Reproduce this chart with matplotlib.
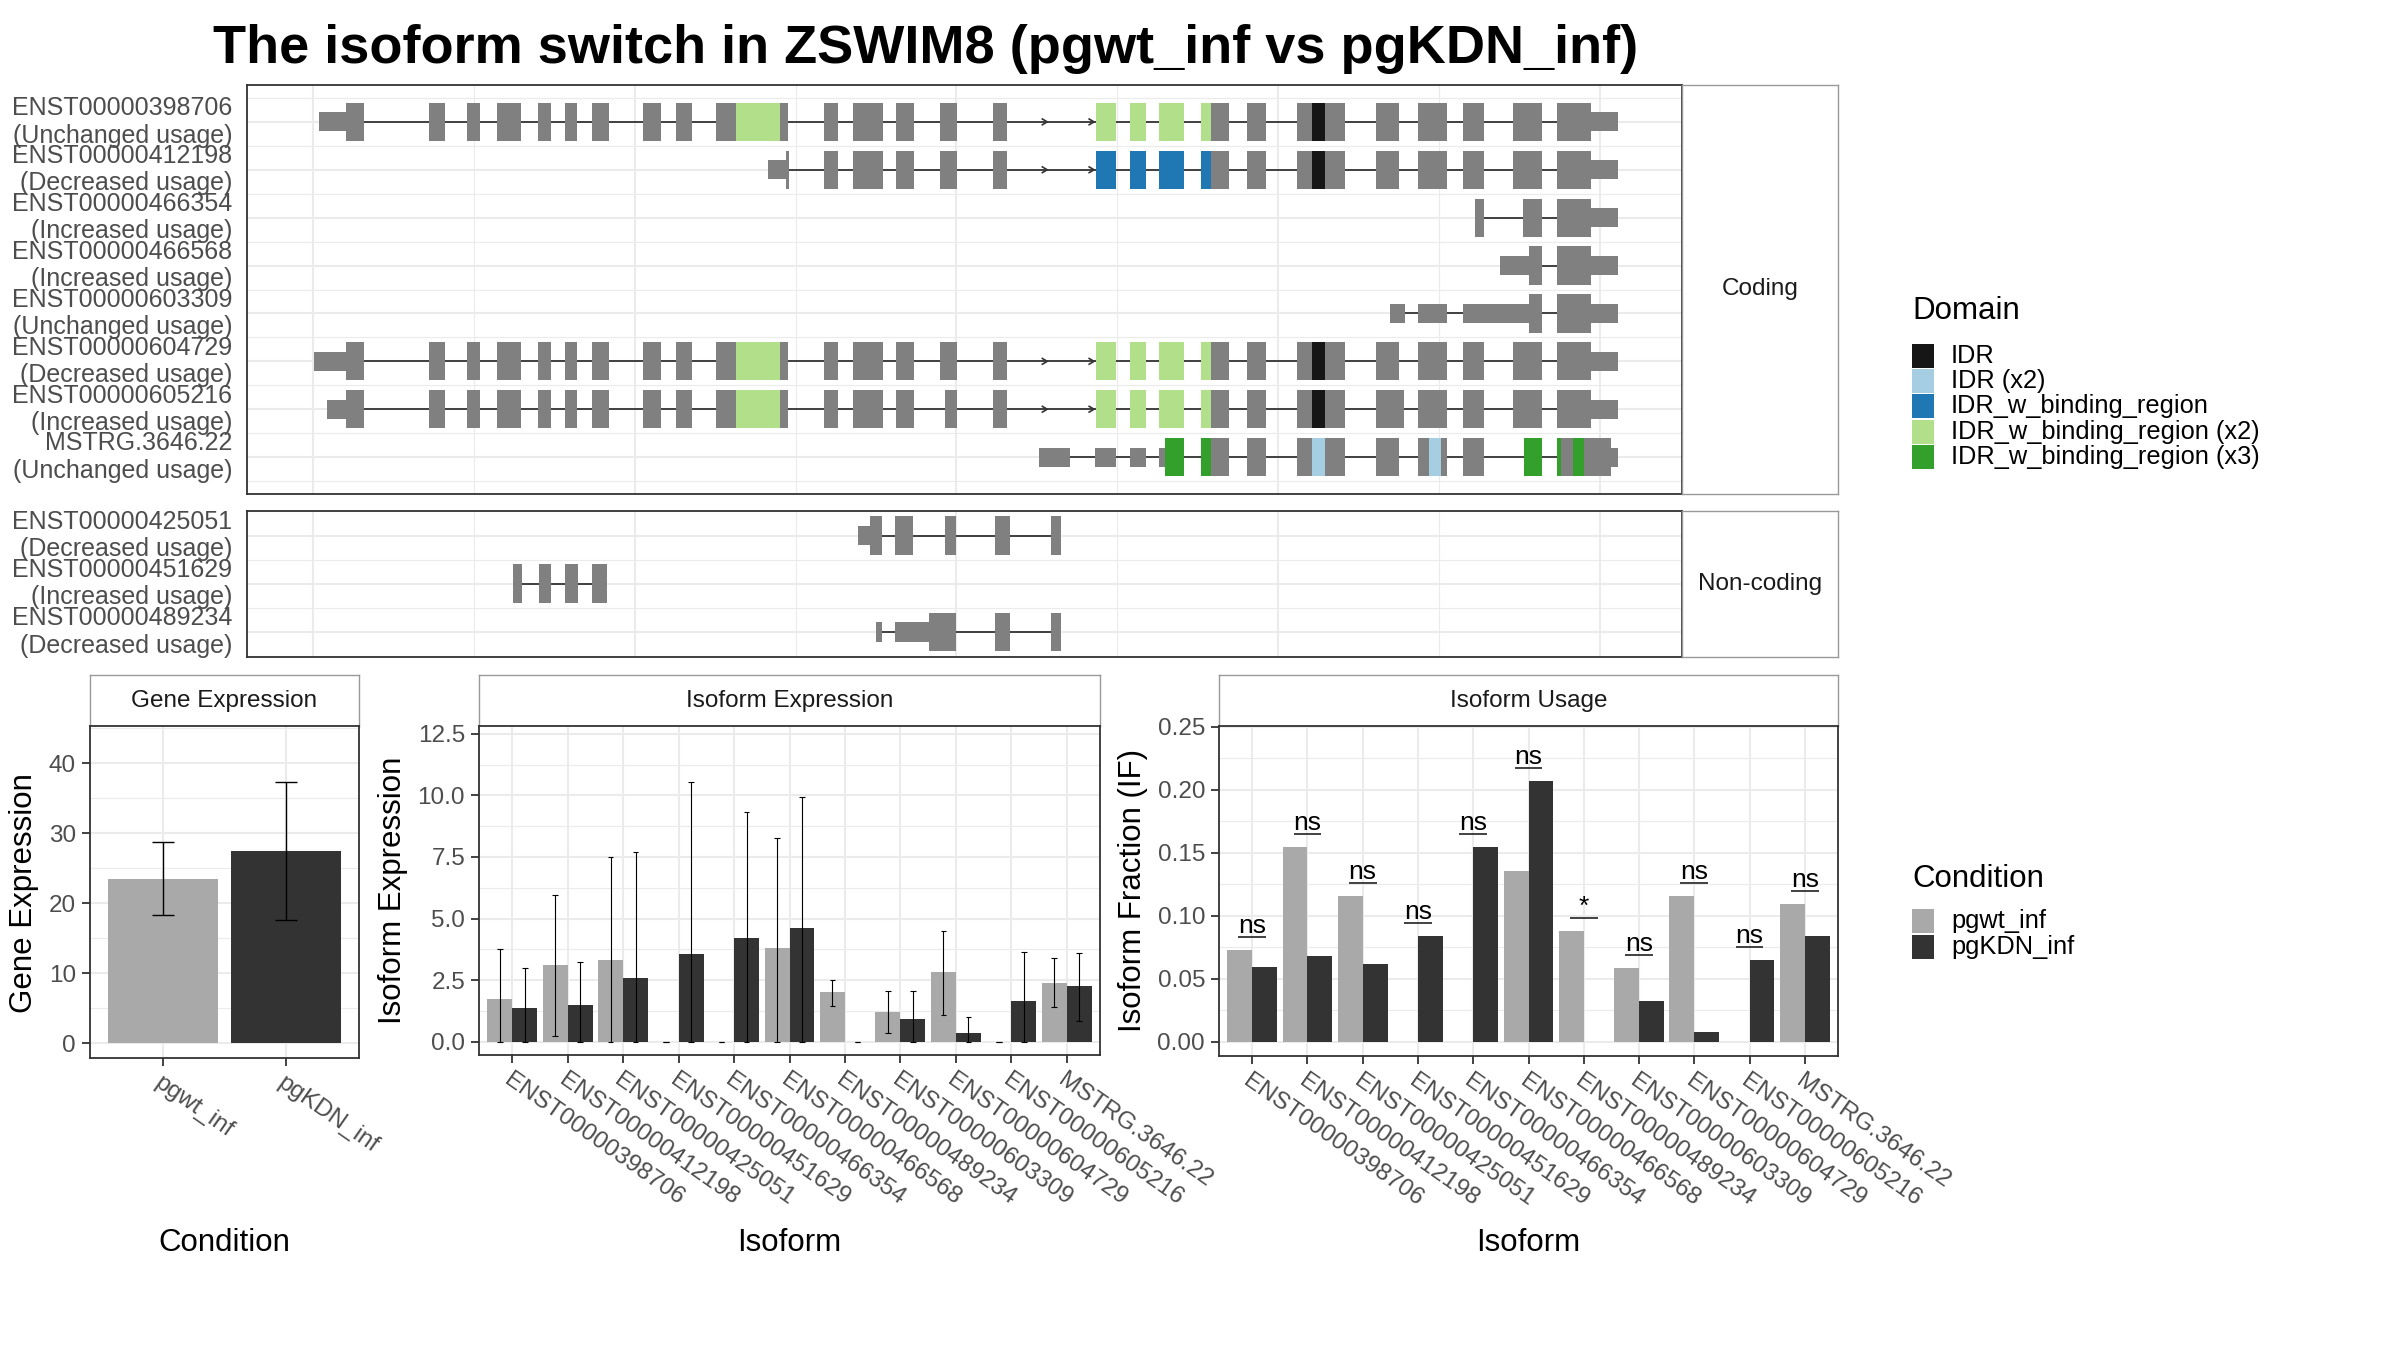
import matplotlib
matplotlib.use('Agg')
import matplotlib.pyplot as plt
from matplotlib.patches import Rectangle
from matplotlib.ticker import MultipleLocator, FormatStrFormatter

plt.rcParams['font.family'] = ['Liberation Sans', 'DejaVu Sans']

W, H = 2400, 1350

# ---------------- data ----------------
coding_ids = ['ENST00000398706', 'ENST00000412198', 'ENST00000466354', 'ENST00000466568',
              'ENST00000603309', 'ENST00000604729', 'ENST00000605216', 'MSTRG.3646.22']
coding_usage = ['Unchanged usage', 'Decreased usage', 'Increased usage', 'Increased usage',
                'Unchanged usage', 'Decreased usage', 'Increased usage', 'Unchanged usage']
noncoding_ids = ['ENST00000425051', 'ENST00000451629', 'ENST00000489234']
noncoding_usage = ['Decreased usage', 'Increased usage', 'Decreased usage']

# exon blocks (relative genomic position), full height = coding part
head_exons = [(2.04, 3.15), (7.24, 8.23), (9.60, 10.39), (11.44, 12.93), (13.98, 14.80),
              (15.65, 16.41), (17.34, 18.40), (20.50, 21.61), (22.54, 23.59), (25.05, 29.55)]
mid_exons = [(31.77, 32.62), (33.55, 35.45), (36.27, 37.38), (38.99, 40.04), (42.26, 43.13)]
tail_exons = [(48.66, 49.94), (50.78, 51.79), (52.60, 54.16), (55.20, 56.96), (58.05, 59.26),
              (61.15, 64.17), (66.05, 67.50), (68.70, 70.50), (71.50, 72.80), (74.60, 76.40),
              (77.30, 79.42)]
mid_exons_605216 = [(31.77, 32.62), (33.55, 35.45), (36.27, 37.38), (39.31, 40.04), (42.26, 43.13)]
tail_exons_605216 = [(48.66, 49.94), (50.78, 51.79), (52.60, 54.16), (55.20, 56.96), (58.05, 59.26),
                     (61.15, 64.17), (66.05, 67.85), (68.70, 70.50), (71.50, 72.80), (74.60, 76.40),
                     (77.30, 79.42)]

cds_blocks = {
    'ENST00000398706': head_exons + mid_exons + tail_exons,
    'ENST00000412198': [(29.40, 29.60)] + mid_exons + tail_exons,
    'ENST00000466354': [(72.25, 72.80), (75.20, 76.40), (77.30, 79.42)],
    'ENST00000466568': [(75.60, 76.40), (77.30, 79.42)],
    'ENST00000603309': [(75.60, 76.40), (77.30, 79.42)],
    'ENST00000604729': head_exons + mid_exons + tail_exons,
    'ENST00000605216': head_exons + mid_exons_605216 + tail_exons_605216,
    'MSTRG.3646.22': [(52.96, 54.16), (55.20, 56.96), (58.05, 59.26), (61.15, 64.17), (66.05, 67.50),
                      (68.70, 70.50), (71.50, 72.80), (75.30, 76.40), (77.30, 80.70)],
    'ENST00000425051': [(34.60, 35.40), (36.20, 37.30), (39.30, 40.00), (42.40, 43.30), (45.90, 46.50)],
    'ENST00000451629': [(12.41, 12.97), (14.02, 14.80), (15.69, 16.45), (17.36, 18.30)],
    'ENST00000489234': [(38.30, 40.00), (42.40, 43.30), (45.90, 46.50)],
}
utr_blocks = {
    'ENST00000398706': [(0.37, 2.04), (79.42, 81.13)],
    'ENST00000412198': [(28.30, 29.40), (79.42, 81.13)],
    'ENST00000466354': [(79.42, 81.13)],
    'ENST00000466568': [(73.80, 75.60), (79.42, 81.13)],
    'ENST00000603309': [(66.95, 67.90), (68.70, 70.50), (71.50, 75.60), (79.42, 81.13)],
    'ENST00000604729': [(0.05, 2.04), (79.42, 81.13)],
    'ENST00000605216': [(0.87, 2.04), (79.42, 81.13)],
    'MSTRG.3646.22': [(45.10, 47.03), (48.59, 49.94), (50.78, 51.79), (52.60, 52.96), (80.70, 81.13)],
    'ENST00000425051': [(33.90, 34.60)],
    'ENST00000451629': [],
    'ENST00000489234': [(35.00, 35.40), (36.20, 38.30)],
}
strand_marks = {
    'ENST00000398706': [45.64, 48.55], 'ENST00000412198': [45.64, 48.55],
    'ENST00000604729': [45.64, 48.55], 'ENST00000605216': [45.64, 48.55],
}

domain_names = ['IDR', 'IDR (x2)', 'IDR_w_binding_region', 'IDR_w_binding_region (x2)',
                'IDR_w_binding_region (x3)']
domain_colors = ['#161616', '#A6CEE3', '#1F78B4', '#B2DF8A', '#33A02C']
bind_x2 = [(26.31, 29.06), (48.66, 49.94), (50.78, 51.79), (52.60, 54.16), (55.20, 55.83)]
domain_blocks = (
    [('ENST00000398706', s, e, 'IDR_w_binding_region (x2)') for s, e in bind_x2]
    + [('ENST00000604729', s, e, 'IDR_w_binding_region (x2)') for s, e in bind_x2]
    + [('ENST00000605216', s, e, 'IDR_w_binding_region (x2)') for s, e in bind_x2]
    + [('ENST00000412198', s, e, 'IDR_w_binding_region') for s, e in bind_x2[1:]]
    + [(t, 62.10, 62.90, 'IDR') for t in ['ENST00000398706', 'ENST00000412198',
                                         'ENST00000604729', 'ENST00000605216']]
    + [('MSTRG.3646.22', s, e, 'IDR_w_binding_region (x3)')
       for s, e in [(52.96, 54.16), (55.20, 55.83), (75.30, 76.40), (77.30, 77.60), (78.30, 79.00)]]
    + [('MSTRG.3646.22', s, e, 'IDR (x2)') for s, e in [(62.10, 62.90), (69.35, 70.15)]]
)

conditions = ['pgwt_inf', 'pgKDN_inf']
gene_expr = [23.48, 27.50]
gene_lo = [18.27, 17.65]
gene_hi = [28.74, 37.34]

isoforms = ['ENST00000398706', 'ENST00000412198', 'ENST00000425051', 'ENST00000451629',
            'ENST00000466354', 'ENST00000466568', 'ENST00000489234', 'ENST00000603309',
            'ENST00000604729', 'ENST00000605216', 'MSTRG.3646.22']
expr_wt = [1.74, 3.10, 3.30, 0.0, 0.0, 3.80, 2.00, 1.22, 2.81, 0.0, 2.39]
expr_wt_lo = [0.0, 0.21, 0.0, 0.0, 0.0, 0.0, 1.45, 0.34, 1.10, 0.0, 1.40]
expr_wt_hi = [3.77, 5.97, 7.50, 0.0, 0.0, 8.28, 2.52, 2.05, 4.50, 0.0, 3.40]
expr_kd = [1.37, 1.50, 2.60, 3.56, 4.20, 4.60, 0.0, 0.93, 0.34, 1.63, 2.24]
expr_kd_lo = [0.0, 0.0, 0.0, 0.0, 0.0, 0.0, 0.0, 0.0, 0.0, 0.0, 0.85]
expr_kd_hi = [3.00, 3.25, 7.70, 10.55, 9.32, 9.92, 0.0, 2.05, 1.00, 3.65, 3.60]

if_wt = [0.0727, 0.1547, 0.1153, 0.0, 0.0, 0.1353, 0.0880, 0.0584, 0.1153, 0.0, 0.1090]
if_kd = [0.0590, 0.0680, 0.0613, 0.0839, 0.1547, 0.2068, 0.0, 0.0321, 0.0076, 0.0645, 0.0839]
if_sig = ['ns', 'ns', 'ns', 'ns', 'ns', 'ns', '*', 'ns', 'ns', 'ns', 'ns']

# ---------------- style ----------------
EXON = '#808080'
WT = '#A9A9A9'
KD = '#333333'
GRID = '#EBEBEB'
AX_TXT = '#4D4D4D'
TICK_FS = 17.5

fig = plt.figure(figsize=(24, 13.5), dpi=100)


def add_box(x0, y0, x1, y1):
    return fig.add_axes([x0 / W, 1 - y1 / H, (x1 - x0) / W, (y1 - y0) / H])


def frame(ax, color='#333333', lw=1.3):
    for s in ax.spines.values():
        s.set_color(color)
        s.set_linewidth(lw)


def strip(x0, y0, x1, y1, label):
    a = add_box(x0, y0, x1, y1)
    a.set_xticks([])
    a.set_yticks([])
    frame(a, '#999999', 1.0)
    a.text(0.5, 0.5, label, ha='center', va='center', fontsize=17.5, color='#1A1A1A',
           transform=a.transAxes)
    return a


def draw_transcripts(ax, ids, usage, ylim):
    for i, tx in enumerate(ids, start=1):
        blocks = cds_blocks[tx] + utr_blocks[tx]
        lo = min(b[0] for b in blocks)
        hi = max(b[1] for b in blocks)
        ax.plot([lo, hi], [i, i], color='#333333', lw=1.3, zorder=2, solid_capstyle='butt')
        for s, e in cds_blocks[tx]:
            ax.add_patch(Rectangle((s, i - 0.4), e - s, 0.8, fc=EXON, ec='none', zorder=3))
        for s, e in utr_blocks[tx]:
            ax.add_patch(Rectangle((s, i - 0.2), e - s, 0.4, fc=EXON, ec='none', zorder=3))
        for t, s, e, d in domain_blocks:
            if t == tx:
                c = domain_colors[domain_names.index(d)]
                ax.add_patch(Rectangle((s, i - 0.4), e - s, 0.8, fc=c, ec='none', zorder=4))
        for x in strand_marks.get(tx, []):
            ax.plot([x - 0.3, x, x - 0.3], [i - 0.06, i, i + 0.06], color='#333333',
                    lw=1.2, zorder=3)
        ax.text(-0.0103, i, f'{tx}\n({usage[i - 1]})', transform=ax.get_yaxis_transform(),
                ha='right', va='center', multialignment='right', fontsize=18,
                color=AX_TXT, linespacing=1.18)
    n = len(ids)
    ax.set_xlim(-4.1, 85.1)
    ax.set_ylim(ylim)
    ax.set_xticks([0, 20, 40, 60, 80])
    ax.set_xticks([10, 30, 50, 70], minor=True)
    ax.set_yticks(range(1, n + 1))
    ax.set_yticks([k + 0.5 for k in range(0, n + 1)], minor=True)
    ax.tick_params(which='both', length=0, labelbottom=False, labelleft=False)
    ax.grid(which='major', color=GRID, lw=1.5)
    ax.grid(which='minor', color=GRID, lw=0.8)
    ax.set_axisbelow(True)
    frame(ax)


# title
fig.text(926 / W, 1 - 63 / H, 'The isoform switch in ZSWIM8 (pgwt_inf vs pgKDN_inf)',
         ha='center', va='baseline', fontsize=39, fontweight='bold', color='black')

# transcript panels
ax_c = add_box(247, 85, 1682, 494)
draw_transcripts(ax_c, coding_ids, coding_usage, (8.77, 0.23))
strip(1682, 85, 1838, 494, 'Coding')

ax_n = add_box(247, 511, 1682, 657)
draw_transcripts(ax_n, noncoding_ids, noncoding_usage, (3.52, 0.49))
strip(1682, 511, 1838, 657, 'Non-coding')


def bar_axes_style(ax, ylim, major, minor, fmt, ncat):
    ax.set_ylim(ylim)
    ax.set_xlim(0.4, ncat + 0.6)
    ax.yaxis.set_major_locator(MultipleLocator(major))
    ax.yaxis.set_minor_locator(MultipleLocator(minor))
    ax.yaxis.set_major_formatter(FormatStrFormatter(fmt))
    ax.set_xticks(range(1, ncat + 1))
    ax.grid(axis='y', which='major', color=GRID, lw=1.5)
    ax.grid(axis='y', which='minor', color=GRID, lw=0.8)
    ax.grid(axis='x', which='major', color=GRID, lw=1.5)
    ax.set_axisbelow(True)
    ax.tick_params(which='major', length=6, width=1.3, color='#333333',
                   labelsize=TICK_FS, labelcolor=AX_TXT, pad=4)
    ax.tick_params(which='minor', length=0)
    frame(ax)


def rot_labels(ax, labels):
    ax.set_xticklabels(labels, rotation=-35, ha='left', va='top', rotation_mode='anchor')


# gene expression
strip(90, 675, 359, 726, 'Gene Expression')
ax_g = add_box(90, 726, 359, 1058)
for k in range(2):
    ax_g.bar(k + 1, gene_expr[k], width=0.9, color=[WT, KD][k], zorder=2)
    ax_g.vlines(k + 1, gene_lo[k], gene_hi[k], color='black', lw=1.0, zorder=3)
    ax_g.hlines([gene_lo[k], gene_hi[k]], k + 1 - 0.09, k + 1 + 0.09, color='black', lw=1.0, zorder=3)
bar_axes_style(ax_g, (-2.07, 45.3), 10, 5, '%d', 2)
rot_labels(ax_g, conditions)

# isoform expression
strip(479, 675, 1100, 726, 'Isoform Expression')
ax_e = add_box(479, 726, 1100, 1055)
xs = list(range(1, len(isoforms) + 1))
for k, x in enumerate(xs):
    for off, val, lo, hi, col in [(-0.225, expr_wt[k], expr_wt_lo[k], expr_wt_hi[k], WT),
                                  (0.225, expr_kd[k], expr_kd_lo[k], expr_kd_hi[k], KD)]:
        ax_e.bar(x + off, val, width=0.45, color=col, zorder=2)
        ax_e.vlines(x + off, lo, hi, color='black', lw=0.8, zorder=3)
        ax_e.hlines([lo, hi], x + off - 0.05, x + off + 0.05, color='black', lw=0.8, zorder=3)
bar_axes_style(ax_e, (-0.545, 12.82), 2.5, 1.25, '%.1f', len(isoforms))
rot_labels(ax_e, isoforms)

# isoform usage
strip(1219, 675, 1838, 726, 'Isoform Usage')
ax_u = add_box(1219, 726, 1838, 1056)
for k, x in enumerate(xs):
    ax_u.bar(x - 0.225, if_wt[k], width=0.45, color=WT, zorder=2)
    ax_u.bar(x + 0.225, if_kd[k], width=0.45, color=KD, zorder=2)
    top = max(if_wt[k], if_kd[k]) + 0.0105
    ax_u.hlines(top, x - 0.25, x + 0.25, color='#333333', lw=1.3, zorder=3)
    ax_u.text(x, top + 0.003, if_sig[k], ha='center', va='baseline', fontsize=19, color='black')
bar_axes_style(ax_u, (-0.0114, 0.2506), 0.05, 0.025, '%.2f', len(isoforms))
rot_labels(ax_u, isoforms)

# axis titles
fig.text(24 / W, 1 - 893 / H, 'Gene Expression', rotation=90, ha='center', va='center', fontsize=22.5)
fig.text(393 / W, 1 - 890 / H, 'Isoform Expression', rotation=90, ha='center', va='center', fontsize=22.5)
fig.text(1133 / W, 1 - 890 / H, 'Isoform Fraction (IF)', rotation=90, ha='center', va='center', fontsize=22.5)
fig.text(224 / W, 1 - 1243 / H, 'Condition', ha='center', va='center', fontsize=22.5)
fig.text(789 / W, 1 - 1243 / H, 'Isoform', ha='center', va='center', fontsize=22.5)
fig.text(1528 / W, 1 - 1243 / H, 'Isoform', ha='center', va='center', fontsize=22.5)


# legends
def legend_block(title, title_y, names, colors, ys):
    fig.text(1912 / W, 1 - title_y / H, title, ha='left', va='center', fontsize=22.5)
    for nm, c, y in zip(names, colors, ys):
        fig.add_artist(Rectangle((1912 / W, 1 - (y + 12) / H), 22 / W, 24 / H,
                                 transform=fig.transFigure, fc=c, ec='none'))
        fig.text(1951 / W, 1 - y / H, nm, ha='left', va='center', fontsize=18.3)


legend_block('Domain', 311, domain_names, domain_colors, [356, 381, 406, 432, 457])
legend_block('Condition', 879, conditions, [WT, KD], [921, 947])

fig.savefig('out.png', dpi=100, facecolor='white')
